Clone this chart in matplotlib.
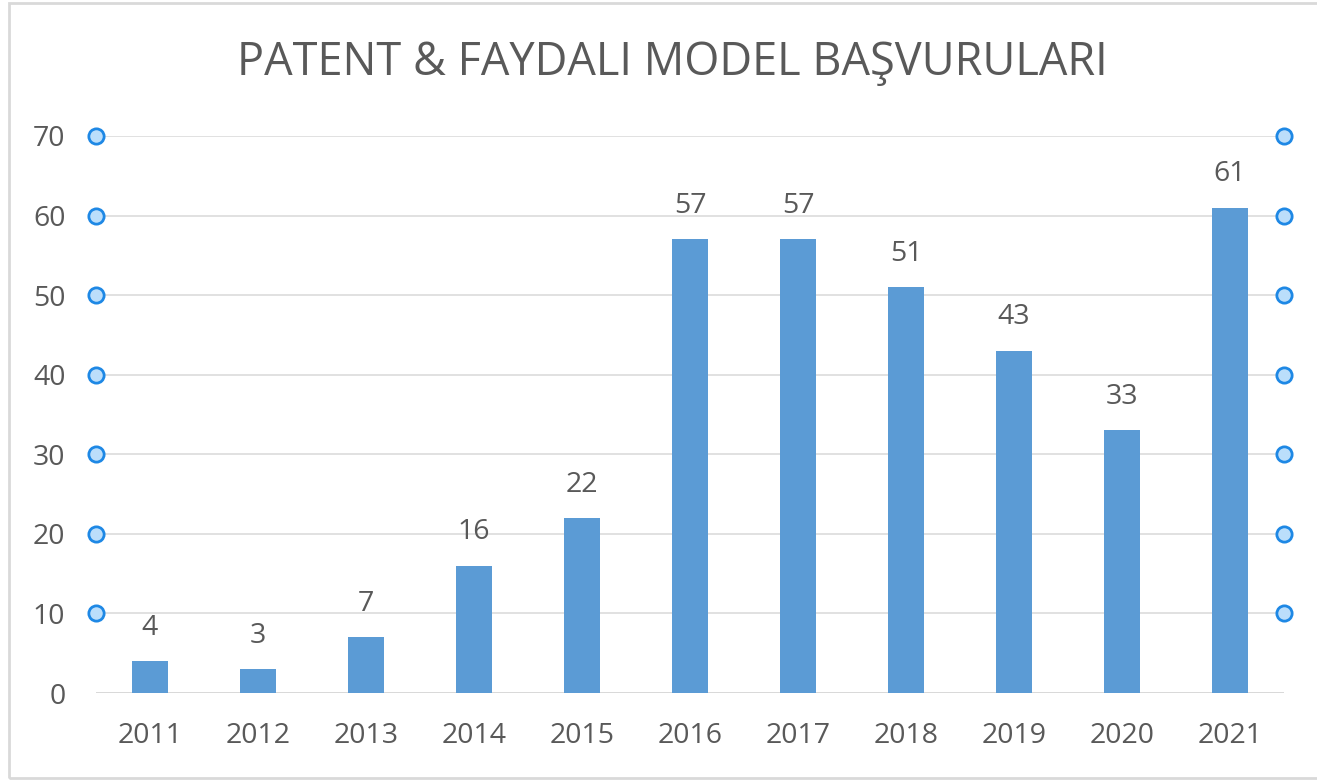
import matplotlib
matplotlib.use("Agg")
import matplotlib.pyplot as plt
from matplotlib.patches import Rectangle

# --- data ---
years = ["2011", "2012", "2013", "2014", "2015", "2016", "2017", "2018", "2019", "2020", "2021"]
applications = [4, 3, 7, 16, 22, 57, 57, 51, 43, 33, 61]
y_ticks = [0, 10, 20, 30, 40, 50, 60, 70]
title = "PATENT & FAYDALI MODEL BAŞVURULARI"

TEXT = "#595959"
BAR = "#5B9BD5"
GRID = "#D9D9D9"

plt.rcParams['font.family'] = ['Open Sans', 'DejaVu Sans']

fig = plt.figure(figsize=(13.17, 7.81), dpi=100)
W, H = 1317, 781
ax = fig.add_axes([96 / W, 88 / H, 1188 / W, 557 / H])

x = range(len(years))
ax.bar(x, applications, width=0.33, color=BAR, zorder=3)

ax.set_xlim(-0.5, len(years) - 0.5)
ax.set_ylim(0, 70)
ax.set_yticks(y_ticks)
ax.set_xticks(list(x))
ax.set_xticklabels(years)
ax.tick_params(axis='both', length=0, labelsize=20.5, colors=TEXT)
ax.tick_params(axis='y', pad=22)
ax.tick_params(axis='x', pad=21)
ax.grid(axis='y', color=GRID, linewidth=1.1, zorder=0)
for s in ax.spines.values():
    s.set_visible(False)
ax.axhline(0, color=GRID, linewidth=1.3, zorder=2)

# data labels
for i, v in enumerate(applications):
    ax.annotate(str(v), (i, v), xytext=(0, 19), textcoords='offset points',
                ha='center', va='baseline', fontsize=20.5, color=TEXT)

# selection handles on the plot-area edges
for yt in y_ticks[1:]:
    for xe in (-0.5, len(years) - 0.5):
        ax.plot(xe, yt, 'o', ms=11, mfc='#BBDEFB', mec='#1E88E5', mew=2,
                clip_on=False, zorder=5)

fig.text(672 / W, 1 - 63 / H, title, ha='center', va='center',
         fontsize=32.5, color=TEXT)

# chart border (right edge runs off the picture)
fig.patches.append(Rectangle((8.5 / W, 3 / H), (W + 20) / W, (H - 6) / H,
                             transform=fig.transFigure, fill=False,
                             edgecolor='#D9D9D9', linewidth=2))

fig.savefig("out.png", dpi=100)
